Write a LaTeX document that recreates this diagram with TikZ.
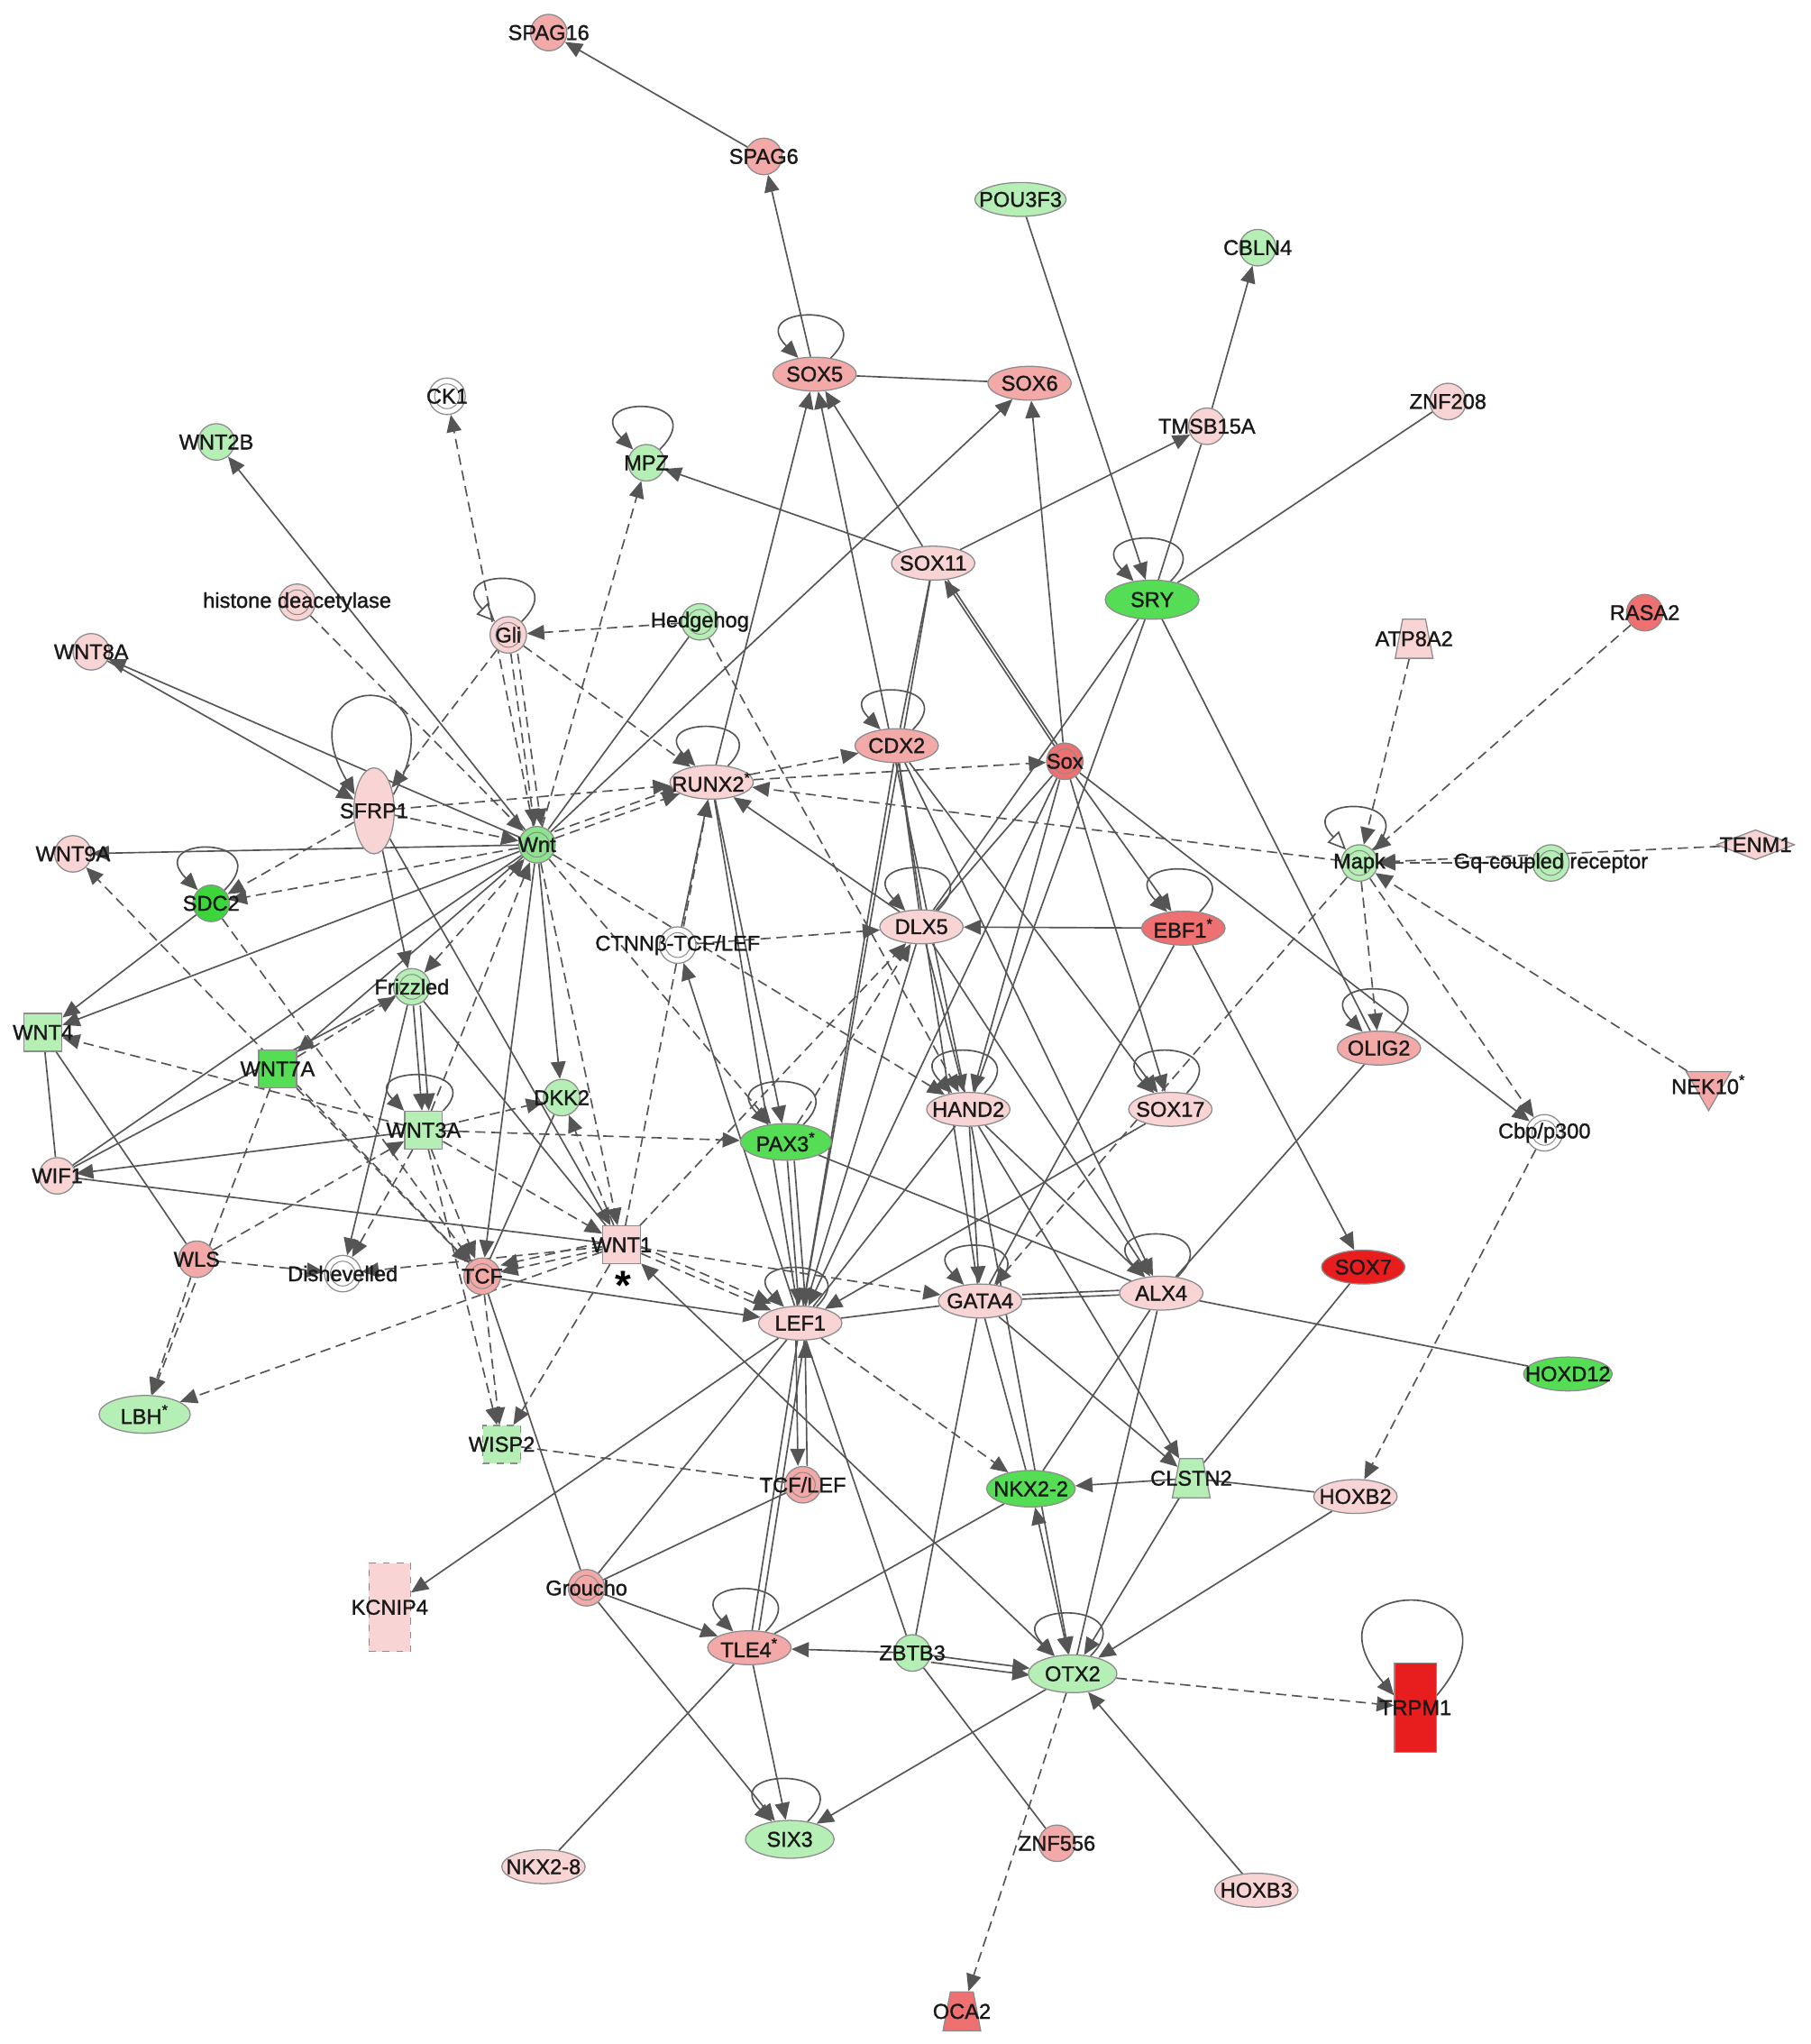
\documentclass[tikz,border=0pt]{standalone}
\usepackage{fontspec}
\setmainfont{Liberation Sans}
\newfontfamily\labfont{Liberation Sans}[FakeBold=1.3]
\usetikzlibrary{shapes.geometric,arrows.meta}
\pgfdeclarelayer{back}
\pgfsetlayers{back,main}
\definecolor{lpink}{HTML}{F9D4D4}
\definecolor{mpink}{HTML}{F4A9A9}
\definecolor{rpink}{HTML}{EE7070}
\definecolor{rred}{HTML}{E81E1E}
\definecolor{lgreen}{HTML}{B5EFB5}
\definecolor{mgreen}{HTML}{8EE38E}
\definecolor{bgreen}{HTML}{55DD55}
\definecolor{sgreen}{HTML}{3CD63C}
\definecolor{edgec}{HTML}{555555}
\tikzset{
  base/.style={draw=black!45, line width=0.5pt, inner sep=0pt},
  lab/.style={font=\labfont\fontsize{9.3}{10}\selectfont, inner sep=0pt, text=black!90},
  ell/.style={base, ellipse, minimum width=1.28cm, minimum height=0.52cm},
  tallell/.style={base, ellipse, minimum width=0.62cm, minimum height=1.32cm},
  circ/.style={base, circle, minimum size=0.56cm},
  grp/.style={base, circle, minimum size=0.56cm,
    path picture={\draw[black!45, line width=0.4pt] (path picture bounding box.center) circle (0.19cm);}},
  sq/.style={base, rectangle, minimum size=0.58cm},
  tall/.style={base, rectangle, minimum width=0.64cm, minimum height=1.36cm},
  trap/.style={base, inner sep=1pt, trapezium, trapezium left angle=72, trapezium right angle=72,
    trapezium stretches=true, minimum width=0.58cm, minimum height=0.6cm},
  dia/.style={base, inner sep=1pt, diamond, minimum width=1.2cm, minimum height=0.46cm},
  tri/.style={base, inner sep=1pt, regular polygon, regular polygon sides=3, shape border rotate=180, minimum size=0.8cm},
  eL/.style={draw=edgec, line width=0.65pt},
  eA/.style={eL, -{Triangle[length=7.5pt,width=6.5pt]}},
  eB/.style={eL, {Triangle[length=7.5pt,width=6.5pt]}-{Triangle[length=7.5pt,width=6.5pt]}},
  eD/.style={eA, dash pattern=on 4.5pt off 2.5pt},
  eDB/.style={eB, dash pattern=on 4.5pt off 2.5pt},
  eDL/.style={eL, dash pattern=on 4.5pt off 2.5pt},
}
\newcommand\mknode[6]{\node[#1,fill=#2,label={[lab]center:#6}] (#3) at (#4,#5) {};}
\newcommand\sst{\textsuperscript{*}}
\newcommand\sloop[2]{\draw[eA] (#1.45) .. controls +(45:#2) and +(135:#2) .. (#1.135);}
\begin{document}
\begin{tikzpicture}[x=0.02cm,y=-0.02cm]
\useasboundingbox (0,0) rectangle (1389,1568);
% nodes
\mknode{circ}{mpink}{spagA}{421}{25}{SPAG16}
\mknode{circ}{mpink}{spagB}{586}{120}{SPAG6}
\mknode{ell,minimum width=1.4cm}{lgreen}{pou}{783}{153}{POU3F3}
\mknode{circ}{lgreen}{cbln}{965}{190}{CBLN4}
\mknode{ell}{mpink}{sox5}{625}{287}{SOX5}
\mknode{ell}{mpink}{sox6}{790}{294}{SOX6}
\mknode{grp}{white}{ck1}{343}{304}{CK1}
\mknode{circ}{lgreen}{wnt2b}{166}{339}{WNT2B}
\mknode{circ}{lgreen}{mpz}{496}{355}{MPZ}
\mknode{circ}{lpink}{tmsb}{926}{327}{TMSB15A}
\mknode{circ}{lpink}{znf208}{1111}{308}{ZNF208}
\mknode{ell}{lpink}{sox11}{716}{432}{SOX11}
\mknode{ell,minimum width=1.44cm,minimum height=0.6cm}{bgreen}{sry}{884}{460}{SRY}
\mknode{grp}{lpink}{hdac}{228}{462}{histone deacetylase}
\mknode{grp}{lpink}{gli}{390}{487}{Gli}
\mknode{grp}{lgreen}{hh}{537}{477}{Hedgehog}
\mknode{circ}{lpink}{wnt8a}{70}{500}{WNT8A}
\mknode{trap}{lpink}{atp}{1085}{490}{ATP8A2}
\mknode{circ}{rpink}{rasa}{1262}{470}{RASA2}
\mknode{ell}{mpink}{cdx2}{688}{572}{CDX2}
\mknode{grp}{rpink}{sox}{817}{584}{Sox}
\mknode{ell}{lpink}{runx2}{546}{600}{RUNX2\sst}
\mknode{tallell}{lpink}{sfrp}{287}{622}{SFRP1}
\mknode{grp}{mgreen}{wnt}{412}{648}{Wnt}
\mknode{circ}{lpink}{wnt9a}{56}{655}{WNT9A}
\mknode{circ}{sgreen}{sdc2}{162}{693}{SDC2}
\mknode{grp}{lgreen}{mapk}{1043}{662}{Mapk}
\mknode{grp}{lgreen}{gq}{1190}{662}{Gq-coupled receptor}
\mknode{dia}{lpink}{tenm}{1347}{648}{TENM1}
\mknode{ell}{lpink}{dlx5}{707}{711}{DLX5}
\mknode{ell}{rpink}{ebf1}{908}{712}{EBF1\sst}
\mknode{grp}{white}{ctnnb}{520}{725}{CTNNβ-TCF/LEF}
\mknode{grp}{lgreen}{fzd}{316}{757}{Frizzled}
\mknode{sq}{lgreen}{wnt4}{33}{792}{WNT4}
\mknode{sq}{bgreen}{wnt7a}{213}{820}{WNT7A}
\mknode{ell}{mpink}{olig2}{1058}{804}{OLIG2}
\mknode{tri}{mpink}{nek}{1311}{832}{NEK10\sst}
\mknode{ell}{lpink}{hand2}{743}{851}{HAND2}
\mknode{ell}{lpink}{sox17}{898}{851}{SOX17}
\mknode{grp}{white}{cbp}{1185}{869}{Cbp/p300}
\mknode{circ}{lgreen}{dkk2}{431}{842}{DKK2}
\mknode{sq}{lgreen}{wnt3a}{325}{867}{WNT3A}
\mknode{ell,minimum width=1.4cm,minimum height=0.56cm}{bgreen}{pax3}{603}{876}{PAX3\sst}
\mknode{circ}{lpink}{wif1}{44}{902}{WIF1}
\mknode{circ}{mpink}{wls}{151}{966}{WLS}
\mknode{grp}{white}{dsh}{263}{977}{Dishevelled}
\mknode{grp}{mpink}{tcf}{370}{979}{TCF}
\mknode{sq}{lpink}{wnt1}{477}{955}{WNT1}
\mknode{ell}{rred}{sox7}{1046}{972}{SOX7}
\mknode{ell}{lpink}{lef1}{614}{1015}{LEF1}
\mknode{ell}{lpink}{gata4}{752}{998}{GATA4}
\mknode{ell}{lpink}{alx4}{891}{992}{ALX4}
\mknode{ell,minimum width=1.36cm}{bgreen}{hoxd12}{1203}{1054}{HOXD12}
\mknode{ell,minimum width=1.4cm,minimum height=0.58cm}{lgreen}{lbh}{111}{1085}{LBH\sst}
\mknode{sq,dashed}{lgreen}{wisp2}{385}{1108}{WISP2}
\mknode{grp}{mpink}{tcflef}{616}{1139}{TCF/LEF}
\mknode{ell,minimum width=1.36cm,minimum height=0.56cm}{bgreen}{nkx22}{791}{1142}{NKX2-2}
\mknode{trap}{lgreen}{clstn}{914}{1134}{CLSTN2}
\mknode{ell}{lpink}{hoxb2}{1040}{1148}{HOXB2}
\mknode{tall,dashed}{lpink}{kcnip}{299}{1233}{KCNIP4}
\mknode{grp}{mpink}{groucho}{450}{1218}{Groucho}
\mknode{ell}{mpink}{tle4}{575}{1264}{TLE4\sst}
\mknode{circ}{lgreen}{zbtb3}{700}{1268}{ZBTB3}
\mknode{ell,minimum width=1.36cm,minimum height=0.58cm}{lgreen}{otx2}{823}{1284}{OTX2}
\mknode{tall}{rred}{trpm}{1086}{1310}{TRPM1}
\mknode{ell,minimum width=1.36cm,minimum height=0.58cm}{lgreen}{six3}{606}{1411}{SIX3}
\mknode{circ}{mpink}{znf556}{811}{1414}{ZNF556}
\mknode{ell}{lpink}{nkx28}{417}{1432}{NKX2-8}
\mknode{ell}{lpink}{hoxb3}{964}{1450}{HOXB3}
\mknode{trap}{rpink}{oca2}{738}{1543}{OCA2}
\node[font=\fontsize{18}{18}\selectfont\bfseries, inner sep=0pt] (star) at (478,986) {*};

\begin{pgfonlayer}{back}
\fill[white] (0,0) rectangle (1389,1568);
% top
\draw[eA] (spagB) -- (spagA);
\draw[eA] (sox5) -- (spagB);
\draw[eL] (sox5) -- (sox6);
\draw[eA] (pou) -- (sry);
\draw[eA] (tmsb) -- (cbln);
\draw[eL] (sry) -- (tmsb);
\draw[eL] (sry) -- (znf208);
\draw[eA] (sox11) -- (mpz);
\draw[eA] (sox11) -- (tmsb);
\draw[eA] (sox11) -- (sox5);
\draw[eA] (runx2) -- (sox5);
\draw[eA] (hand2) -- (sox5);
\draw[eA] (wnt) -- (sox6);
\draw[eA] (sox) -- (sox6);
\draw[eA] (sox) -- (sox11);
\draw[eL, transform canvas={xshift=1.5pt}] (sox) -- (sox11);
% Gli / Hedgehog
\draw[eD] (wnt) -- (mpz);
\draw[eD] (wnt) -- (ck1);
\draw[eD] (hh) -- (gli);
\draw[eL] (hh) -- (wnt);
\draw[eD] (hh) -- (hand2);
\draw[eD] (hdac) -- (wnt);
\draw[eD] (gli) -- (wnt);
\draw[eD, transform canvas={xshift=3pt}] (gli) -- (wnt);
\draw[eD] (gli) -- (sfrp);
\draw[eD] (gli) -- (runx2);
% Wnt hub
\draw[eA] (wnt) -- (wnt2b);
\draw[eA] (wnt) -- (wnt8a);
\draw[eA] (wnt8a) -- (sfrp);
\draw[eA] (wnt) -- (wnt9a);
\draw[eD] (sfrp) -- (wnt);
\draw[eD] (sfrp) -- (runx2);
\draw[eD] (sfrp) -- (sdc2);
\draw[eD] (wnt) -- (sdc2);
\draw[eA] (sdc2) -- (wnt4);
\draw[eA] (wnt) -- (wnt4);
\draw[eA] (sfrp) -- (fzd);
\draw[eA] (sfrp) -- (wnt1);
\draw[eDB] (fzd) -- (wnt);
\draw[eL] (wif1) -- (wnt);
\draw[eL] (wif1) -- (fzd);
\draw[eL] (wnt4) -- (wif1);
\draw[eL] (wnt4) -- (wls);
\draw[eA] (wnt3a) -- (wif1);
\draw[eL] (wif1) -- (wnt1);
\draw[eA] (wnt) -- (wnt7a);
\draw[eD] (wnt7a) -- (fzd);
\draw[eD] (wnt3a) -- (wnt4);
\draw[eD] (tcf) -- (wnt9a);
\draw[eD] (wnt7a) -- (lbh);
\draw[eD] (wnt7a) -- (tcf);
\draw[eD] (sdc2) -- (tcf);
\draw[eD] (wls) -- (dsh);
\draw[eD] (wls) -- (wnt3a);
\draw[eD] (wls) -- (lbh);
\draw[eD] (wnt1) -- (lbh);
\draw[eA] (fzd) -- (wnt3a);
\draw[eA, transform canvas={xshift=3pt}] (fzd) -- (wnt3a);
\draw[eA] (fzd) -- (dsh);
\draw[eL] (fzd) -- (wnt1);
\draw[eD] (wnt3a) -- (dkk2);
\draw[eD] (wnt3a) -- (pax3);
\draw[eD] (wnt3a) -- (wnt1);
\draw[eD] (wnt3a) -- (tcf);
\draw[eD] (wnt3a) -- (wisp2);
\draw[eD] (wnt3a) -- (dsh);
\draw[eD] (wnt3a) -- (wnt);
\draw[eA] (wnt) -- (dkk2);
\draw[eL] (dkk2) -- (tcf);
\draw[eD] (wnt1) -- (dkk2);
\draw[eD] (wnt1) -- (dsh);
\draw[eD] (wnt1) -- (tcf);
\draw[eD, transform canvas={yshift=3pt}] (wnt1) -- (tcf);
\draw[eD] (wnt1) -- (wisp2);
\draw[eD] (wnt1) -- (lef1);
\draw[eD, transform canvas={yshift=3pt}] (wnt1) -- (lef1);
\draw[eB] (wnt1) -- (otx2);
\draw[eD] (wnt1) -- (gata4);
\draw[eD] (wnt1) -- (dlx5);
\draw[eD] (wnt1) -- (runx2);
\draw[eD] (wnt) -- (wnt1);
\draw[eA] (tcf) -- (lef1);
\draw[eL] (tcf) -- (groucho);
\draw[eD] (tcf) -- (wisp2);
\draw[eDL] (wisp2) -- (tcflef);
\draw[eA, transform canvas={xshift=-2pt}] (lef1) -- (tcflef);
\draw[eA, transform canvas={xshift=2pt}] (tcflef) -- (lef1);
\draw[eA] (lef1) -- (kcnip);
\draw[eD] (lef1) -- (nkx22);
\draw[eL] (lef1) -- (gata4);
\draw[eA] (pax3) -- (lef1);
\draw[eA, transform canvas={xshift=3pt}] (pax3) -- (lef1);
\draw[eL] (pax3) -- (alx4);
\draw[eD] (pax3) -- (dlx5);
% RUNX2 / CDX2 / Sox
\draw[eD] (runx2) -- (cdx2);
\draw[eD] (runx2) -- (sox);
\draw[eD] (mapk) -- (runx2);
\draw[eA] (runx2) -- (pax3);
\draw[eL] (runx2) -- (lef1);
\draw[eA] (dlx5) -- (runx2);
\draw[eD] (wnt) -- (runx2);
\draw[eD, transform canvas={yshift=3pt}] (wnt) -- (runx2);
\draw[eA] (ctnnb) -- (runx2);
\draw[eD] (ctnnb) -- (dlx5);
\draw[eA] (lef1) -- (ctnnb);
\draw[eD] (wnt) -- (pax3);
\draw[eD] (wnt) -- (hand2);
\draw[eA] (wnt) -- (tcf);
\draw[eL] (sox11) -- (cdx2);
\draw[eL] (sox11) -- (lef1);
\draw[eA] (cdx2) -- (lef1);
\draw[eL] (cdx2) -- (dlx5);
\draw[eA] (cdx2) -- (sox17);
\draw[eA] (cdx2) -- (alx4);
\draw[eL] (cdx2) -- (gata4);
\draw[eA] (sox) -- (ebf1);
\draw[eA] (sox) -- (sox17);
\draw[eA] (ebf1) -- (sox7);
\draw[eA] (sox) -- (cbp);
\draw[eL] (sox) -- (dlx5);
\draw[eA] (sox) -- (hand2);
\draw[eA] (sox) -- (lef1);
\draw[eL] (sry) -- (dlx5);
\draw[eL] (sry) -- (hand2);
\draw[eL] (sry) -- (olig2);
\draw[eA] (ebf1) -- (dlx5);
\draw[eL] (ebf1) -- (gata4);
\draw[eA] (dlx5) -- (hand2);
\draw[eA] (dlx5) -- (alx4);
\draw[eL] (dlx5) -- (lef1);
\draw[eA] (hand2) -- (gata4);
\draw[eA] (hand2) -- (alx4);
\draw[eA] (hand2) -- (otx2);
\draw[eA] (hand2) -- (clstn);
\draw[eL] (hand2) -- (lef1);
\draw[eA] (sox17) -- (lef1);
\draw[eD] (mapk) -- (gata4);
\draw[eL] (alx4) -- (gata4);
\draw[eL, transform canvas={yshift=2pt}] (alx4) -- (gata4);
\draw[eL] (alx4) -- (hoxd12);
\draw[eL] (alx4) -- (olig2);
\draw[eL] (alx4) -- (nkx22);
\draw[eL] (alx4) -- (otx2);
\draw[eA] (gata4) -- (clstn);
\draw[eL] (gata4) -- (nkx22);
\draw[eL] (gata4) -- (zbtb3);
\draw[eL] (sox7) -- (clstn);
% lower right
\draw[eD] (cbp) -- (hoxb2);
\draw[eL] (hoxb2) -- (clstn);
\draw[eA] (clstn) -- (nkx22);
\draw[eA] (hoxb2) -- (otx2);
\draw[eA] (clstn) -- (otx2);
\draw[eB] (nkx22) -- (otx2);
\draw[eL] (nkx22) -- (tle4);
\draw[eD] (otx2) -- (trpm);
\draw[eD] (otx2) -- (oca2);
\draw[eA] (otx2) -- (six3);
\draw[eA] (hoxb3) -- (otx2);
\draw[eA] (zbtb3) -- (tle4);
\draw[eA] (zbtb3) -- (otx2);
\draw[eA, transform canvas={yshift=-3pt}] (zbtb3) -- (otx2);
\draw[eL] (zbtb3) -- (znf556);
\draw[eL] (zbtb3) -- (lef1);
\draw[eA] (tle4) -- (six3);
\draw[eL] (tle4) -- (nkx28);
\draw[eA] (groucho) -- (tle4);
\draw[eA] (groucho) -- (six3);
\draw[eL] (groucho) -- (lef1);
\draw[eL] (groucho) -- (tcflef);
\draw[eL] (lef1) -- (tle4);
\draw[eL, transform canvas={xshift=3pt}] (lef1) -- (tle4);
% Mapk
\draw[eD] (gq) -- (mapk);
\draw[eD] (tenm) -- (mapk);
\draw[eD] (atp) -- (mapk);
\draw[eD] (rasa) -- (mapk);
\draw[eD] (nek) -- (mapk);
\draw[eD] (mapk) -- (olig2);
\draw[eD] (mapk) -- (cbp);
% self loops
\sloop{sox5}{1.2cm}
\sloop{sry}{1.2cm}
\sloop{mpz}{1.2cm}
\sloop{sdc2}{1.2cm}
\sloop{runx2}{1.1cm}
\sloop{cdx2}{1.1cm}
\sloop{dlx5}{1.2cm}
\sloop{ebf1}{1.2cm}
\sloop{olig2}{1.2cm}
\sloop{hand2}{1.2cm}
\sloop{sox17}{1.2cm}
\sloop{wnt3a}{1.0cm}
\sloop{pax3}{1.2cm}
\sloop{lef1}{1.1cm}
\sloop{gata4}{1.1cm}
\sloop{alx4}{1.2cm}
\sloop{tle4}{1.2cm}
\sloop{otx2}{1.2cm}
\sloop{six3}{1.2cm}
\draw[eL, -{Triangle[open,length=8pt,width=7pt]}] (gli.45) .. controls +(45:1.2cm) and +(135:1.2cm) .. (gli.135);
\draw[eL, -{Triangle[open,length=8pt,width=7pt]}] (mapk.45) .. controls +(45:1.2cm) and +(135:1.2cm) .. (mapk.135);
\draw[eA] (sfrp.40) .. controls +(60:2.3cm) and +(120:2.3cm) .. (sfrp.140);
\draw[eA] (trpm.30) .. controls +(50:2.5cm) and +(130:2.5cm) .. (trpm.150);
\end{pgfonlayer}
\end{tikzpicture}
\end{document}
